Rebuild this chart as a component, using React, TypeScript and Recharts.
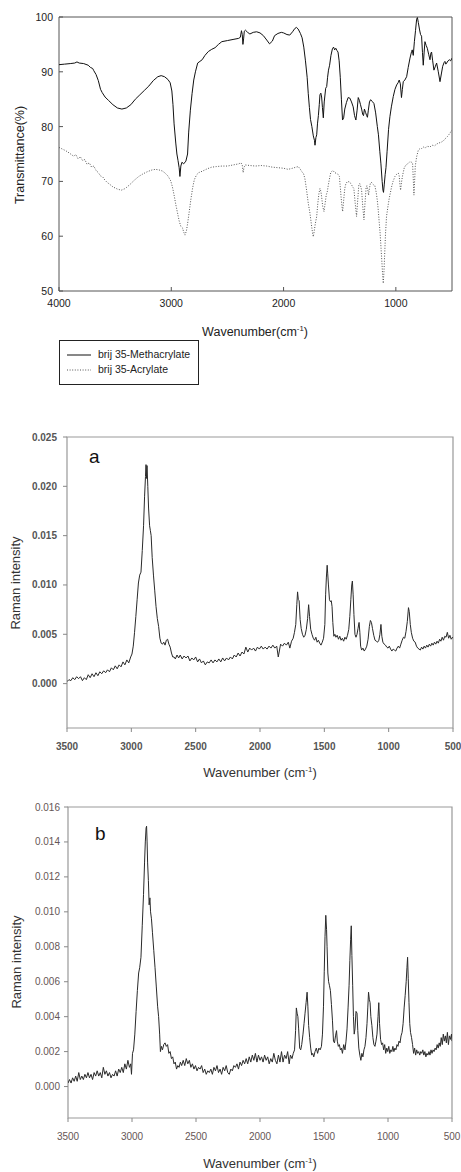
import React from 'react';
import { LineChart, Line, XAxis, YAxis, ReferenceArea, Legend } from 'recharts';

type Pt = [number, number];

const FONT = '"Liberation Sans", Arial, Helvetica, sans-serif';

// ---------- tick labels / categories ----------
const ftirSeriesNames = ['brij 35-Methacrylate', 'brij 35-Acrylate'];
const ftirXTicks = [4000, 3000, 2000, 1000];
const ftirYTicks = [50, 60, 70, 80, 90, 100];
const ramanXTicks = [3500, 3000, 2500, 2000, 1500, 1000, 500];
const ramanAYTicks = [0, 0.005, 0.01, 0.015, 0.02, 0.025];
const ramanBYTicks = [0, 0.002, 0.004, 0.006, 0.008, 0.01, 0.012, 0.014, 0.016];

// ---------- FTIR: brij 35-Methacrylate (wavenumber, transmittance %) ----------
const ftirMethacrylate: Pt[] = [
  [4000, 91.3], [3950, 91.4], [3900, 91.5], [3860, 91.6], [3840, 91.8], [3820, 91.6], [3780, 91.5],
  [3740, 91.2], [3720, 90.8], [3700, 90.6], [3690, 90.2], [3670, 89.5], [3650, 88.4], [3630, 86.8],
  [3615, 86.2], [3590, 85.4], [3560, 84.8], [3520, 84.0], [3480, 83.4], [3440, 83.2], [3400, 83.4],
  [3360, 84.0], [3320, 85.0], [3280, 85.8], [3240, 86.6], [3200, 87.4], [3160, 88.4], [3120, 89.1],
  [3090, 89.3], [3060, 89.1], [3030, 88.6], [3010, 88.0], [2995, 86.5], [2985, 84.0], [2975, 80.5],
  [2960, 77.0], [2950, 75.0], [2940, 73.8], [2930, 72.5], [2923, 70.9], [2915, 72.8], [2905, 73.5],
  [2890, 73.2], [2870, 73.7], [2855, 75.0], [2845, 79.0], [2830, 83.0], [2815, 86.0], [2800, 88.5],
  [2785, 90.0], [2765, 91.6], [2745, 91.9], [2725, 92.2], [2700, 93.0], [2670, 93.7], [2640, 94.1],
  [2610, 94.4], [2580, 95.0], [2550, 95.5], [2500, 95.7], [2450, 95.9], [2400, 96.1], [2385, 96.3],
  [2375, 97.5], [2368, 96.8], [2362, 95.0], [2356, 96.0], [2350, 97.4], [2340, 97.6], [2320, 97.2],
  [2300, 96.9], [2270, 97.2], [2240, 97.3], [2210, 97.1], [2180, 96.6], [2150, 95.8], [2125, 95.1],
  [2100, 95.6], [2080, 96.6], [2050, 97.0], [2020, 97.2], [2000, 97.1], [1970, 96.8], [1945, 96.7],
  [1920, 97.3], [1900, 97.9], [1885, 98.1], [1870, 97.8], [1850, 97.0], [1835, 96.2], [1820, 94.5],
  [1805, 92.0], [1790, 89.0], [1780, 86.0], [1770, 83.5], [1760, 81.3], [1748, 80.0], [1735, 78.3],
  [1725, 77.5], [1720, 76.6], [1712, 78.0], [1705, 78.5], [1698, 80.5], [1690, 82.0], [1682, 84.0],
  [1676, 85.8], [1668, 86.1], [1661, 85.4], [1654, 83.5], [1646, 81.6], [1638, 84.5], [1625, 87.0],
  [1616, 87.3], [1608, 89.0], [1600, 90.3], [1590, 91.2], [1578, 93.0], [1565, 94.2], [1555, 94.5],
  [1545, 94.0], [1535, 94.3], [1525, 93.9], [1515, 93.6], [1505, 92.0], [1495, 89.0], [1485, 85.0],
  [1475, 81.2], [1465, 81.6], [1455, 83.2], [1440, 84.4], [1425, 85.3], [1410, 85.2], [1395, 84.5],
  [1380, 83.6], [1368, 82.0], [1356, 81.2], [1345, 83.0], [1335, 85.3], [1325, 84.8], [1315, 84.0],
  [1305, 83.2], [1295, 82.2], [1288, 82.0], [1280, 83.2], [1270, 82.6], [1260, 82.0], [1253, 81.7],
  [1245, 83.0], [1235, 84.5], [1225, 84.9], [1210, 84.6], [1195, 84.2], [1180, 82.5], [1165, 80.0],
  [1155, 78.5], [1143, 75.5], [1133, 73.2], [1122, 70.0], [1115, 68.4], [1110, 68.0], [1103, 69.5],
  [1095, 71.3], [1088, 72.5], [1078, 75.5], [1065, 79.5], [1053, 81.8], [1040, 83.6], [1023, 85.5],
  [1008, 86.8], [993, 87.6], [980, 88.0], [970, 88.5], [960, 87.8], [950, 85.3], [942, 86.8],
  [934, 88.2], [920, 88.5], [904, 89.1], [890, 90.8], [874, 92.5], [860, 93.7], [854, 94.0],
  [845, 93.0], [835, 95.5], [825, 97.5], [815, 99.6], [808, 99.9], [800, 99.0], [790, 97.8],
  [780, 96.8], [771, 96.5], [763, 93.5], [756, 91.2], [748, 93.6], [741, 95.5], [730, 94.8],
  [720, 94.3], [708, 93.2], [696, 92.2], [688, 93.4], [682, 93.6], [672, 92.0], [661, 90.3],
  [650, 90.9], [637, 91.6], [622, 90.0], [607, 88.2], [595, 89.6], [583, 91.0], [570, 91.7],
  [563, 91.9], [555, 91.4], [548, 91.6], [535, 92.0], [524, 92.2], [512, 92.0], [500, 92.5],
];

// ---------- FTIR: brij 35-Acrylate ----------
const ftirAcrylate: Pt[] = [
  [4000, 76.2], [3970, 75.9], [3940, 75.6], [3910, 75.2], [3890, 74.9], [3870, 74.6], [3850, 74.9],
  [3830, 74.1], [3810, 74.5], [3790, 73.8], [3770, 74.0], [3750, 73.1], [3730, 73.4], [3710, 72.6],
  [3690, 72.8], [3670, 72.0], [3650, 71.6], [3630, 71.0], [3610, 70.8], [3590, 70.2], [3570, 69.8],
  [3550, 69.5], [3520, 69.0], [3480, 68.6], [3445, 68.4], [3410, 68.7], [3370, 69.4], [3330, 70.2],
  [3290, 70.9], [3250, 71.4], [3210, 71.8], [3170, 72.1], [3140, 72.2], [3110, 72.1], [3080, 71.9],
  [3060, 71.6], [3030, 71.0], [3005, 70.1], [2990, 69.0], [2975, 67.5], [2960, 65.8], [2945, 64.3],
  [2930, 62.8], [2915, 61.8], [2900, 61.5], [2890, 60.8], [2878, 60.2], [2865, 61.0], [2854, 62.4],
  [2840, 64.5], [2825, 66.8], [2810, 68.8], [2795, 70.3], [2775, 71.2], [2755, 71.6], [2720, 71.9],
  [2680, 72.3], [2640, 72.6], [2600, 72.7], [2550, 72.8], [2500, 72.8], [2450, 73.0], [2400, 73.2],
  [2380, 73.4], [2368, 73.0], [2360, 71.6], [2352, 72.6], [2340, 73.0], [2300, 72.9], [2250, 72.8],
  [2200, 72.9], [2150, 72.8], [2100, 72.6], [2050, 72.5], [2000, 72.4], [1960, 72.2], [1920, 72.4],
  [1890, 72.6], [1869, 72.7], [1850, 72.2], [1835, 71.7], [1822, 71.4], [1810, 70.5], [1795, 68.4],
  [1780, 66.0], [1765, 64.2], [1750, 61.8], [1740, 60.3], [1735, 59.9], [1728, 60.8], [1718, 62.2],
  [1705, 63.6], [1695, 66.0], [1685, 67.8], [1676, 68.7], [1668, 68.2], [1661, 67.2], [1652, 65.5],
  [1640, 64.5], [1630, 66.0], [1620, 67.5], [1611, 68.1], [1600, 69.5], [1590, 70.6], [1580, 71.6],
  [1572, 71.8], [1560, 72.0], [1545, 71.6], [1533, 71.5], [1520, 71.4], [1503, 70.9], [1495, 69.0],
  [1488, 67.2], [1480, 65.5], [1474, 64.5], [1465, 66.5], [1455, 68.7], [1445, 69.6], [1430, 70.0],
  [1415, 69.9], [1400, 69.6], [1385, 69.0], [1374, 68.7], [1362, 66.0], [1350, 63.6], [1340, 66.5],
  [1330, 69.3], [1322, 69.6], [1312, 69.0], [1305, 68.4], [1295, 65.5], [1284, 63.0], [1275, 66.0],
  [1265, 68.8], [1258, 69.2], [1250, 68.5], [1243, 67.5], [1235, 68.8], [1225, 69.8], [1216, 69.8],
  [1205, 69.5], [1195, 69.3], [1187, 69.2], [1175, 68.0], [1165, 66.5], [1157, 64.8], [1148, 62.5],
  [1140, 60.5], [1132, 57.8], [1125, 55.5], [1118, 53.0], [1112, 51.4], [1106, 53.5], [1100, 56.5],
  [1092, 60.5], [1083, 63.6], [1070, 65.5], [1059, 66.9], [1048, 68.0], [1038, 69.0], [1025, 70.0],
  [1008, 70.9], [993, 71.3], [978, 71.5], [970, 71.0], [964, 69.5], [958, 68.4], [950, 69.8],
  [940, 71.1], [925, 72.5], [910, 73.0], [890, 73.3], [874, 73.6], [860, 73.5], [851, 73.3],
  [845, 70.5], [839, 67.5], [833, 70.0], [827, 72.8], [815, 74.5], [800, 75.7], [785, 76.0],
  [770, 76.0], [756, 76.3], [740, 76.1], [720, 76.4], [696, 76.3], [675, 76.6], [655, 76.5],
  [637, 76.8], [620, 77.0], [600, 77.1], [577, 77.4], [560, 77.8], [540, 78.2], [518, 78.8],
  [504, 79.3], [500, 79.4],
];

// ---------- Raman a ----------
const ramanA: Pt[] = [
  [3500, 0.0002], [3485, 0.0004], [3470, 0.0003], [3455, 0.0006], [3440, 0.0004], [3425, 0.0007],
  [3410, 0.0005], [3395, 0.0007], [3380, 0.0003], [3365, 0.0006], [3350, 0.0004], [3335, 0.0009],
  [3320, 0.0006], [3305, 0.0010], [3290, 0.0007], [3275, 0.0011], [3260, 0.0008], [3245, 0.0012],
  [3230, 0.0010], [3215, 0.0013], [3200, 0.0011], [3185, 0.0014], [3170, 0.0012], [3155, 0.0016],
  [3140, 0.0014], [3125, 0.0018], [3110, 0.0015], [3095, 0.0019], [3080, 0.0017], [3065, 0.0022],
  [3050, 0.0019], [3035, 0.0024], [3020, 0.0021], [3005, 0.0027], [2995, 0.0030], [2985, 0.0038],
  [2975, 0.0052], [2965, 0.0068], [2955, 0.0085], [2945, 0.0102], [2935, 0.0110], [2925, 0.0113],
  [2915, 0.0135], [2905, 0.0160], [2897, 0.0190], [2890, 0.0210], [2886, 0.0222], [2882, 0.0208],
  [2878, 0.0221], [2872, 0.0200], [2866, 0.0178], [2858, 0.0160], [2852, 0.0155], [2846, 0.0150],
  [2838, 0.0128], [2828, 0.0110], [2818, 0.0094], [2808, 0.0078], [2798, 0.0066], [2788, 0.0058],
  [2778, 0.0046], [2768, 0.0041], [2758, 0.0040], [2748, 0.0042], [2738, 0.0039], [2728, 0.0044],
  [2718, 0.0045], [2708, 0.0040], [2698, 0.0037], [2688, 0.0031], [2678, 0.0027], [2668, 0.0027],
  [2658, 0.0025], [2645, 0.0029], [2632, 0.0026], [2620, 0.0029], [2605, 0.0025], [2590, 0.0028],
  [2575, 0.0026], [2560, 0.0028], [2545, 0.0023], [2530, 0.0026], [2515, 0.0024], [2500, 0.0027],
  [2485, 0.0022], [2470, 0.0025], [2455, 0.0021], [2440, 0.0023], [2425, 0.0019], [2410, 0.0022],
  [2395, 0.0021], [2380, 0.0024], [2365, 0.0021], [2350, 0.0024], [2335, 0.0022], [2320, 0.0025],
  [2305, 0.0022], [2290, 0.0026], [2275, 0.0023], [2260, 0.0026], [2245, 0.0024], [2230, 0.0027],
  [2215, 0.0025], [2200, 0.0029], [2185, 0.0027], [2170, 0.0031], [2155, 0.0028], [2140, 0.0032],
  [2125, 0.0030], [2110, 0.0037], [2095, 0.0032], [2080, 0.0036], [2065, 0.0034], [2050, 0.0036],
  [2035, 0.0033], [2020, 0.0037], [2005, 0.0035], [1990, 0.0038], [1975, 0.0035], [1960, 0.0037],
  [1945, 0.0035], [1930, 0.0038], [1915, 0.0036], [1900, 0.0039], [1885, 0.0036], [1870, 0.0038],
  [1858, 0.0027], [1840, 0.0040], [1825, 0.0038], [1810, 0.0041], [1795, 0.0039], [1780, 0.0042],
  [1768, 0.0036], [1755, 0.0043], [1742, 0.0046], [1732, 0.0052], [1722, 0.0060], [1714, 0.0080],
  [1708, 0.0093], [1702, 0.0085], [1696, 0.0084], [1688, 0.0065], [1680, 0.0056], [1670, 0.0050],
  [1660, 0.0047], [1650, 0.0049], [1640, 0.0055], [1630, 0.0066], [1622, 0.0080], [1615, 0.0068],
  [1606, 0.0055], [1596, 0.0050], [1586, 0.0046], [1576, 0.0044], [1566, 0.0047], [1556, 0.0042],
  [1546, 0.0044], [1536, 0.0041], [1526, 0.0039], [1516, 0.0042], [1506, 0.0046], [1496, 0.0060],
  [1490, 0.0090], [1484, 0.0108], [1478, 0.0120], [1474, 0.0112], [1468, 0.0100], [1460, 0.0085],
  [1452, 0.0083], [1446, 0.0084], [1440, 0.0078], [1434, 0.0062], [1426, 0.0048], [1418, 0.0050],
  [1410, 0.0047], [1400, 0.0049], [1390, 0.0045], [1380, 0.0048], [1370, 0.0044], [1360, 0.0046],
  [1350, 0.0043], [1340, 0.0047], [1330, 0.0045], [1320, 0.0049], [1310, 0.0055], [1302, 0.0068],
  [1294, 0.0085], [1287, 0.0100], [1282, 0.0104], [1276, 0.0090], [1270, 0.0070], [1262, 0.0050],
  [1254, 0.0047], [1246, 0.0050], [1238, 0.0056], [1230, 0.0062], [1224, 0.0052], [1218, 0.0038],
  [1210, 0.0034], [1200, 0.0036], [1190, 0.0033], [1180, 0.0035], [1170, 0.0038], [1160, 0.0045],
  [1150, 0.0058], [1142, 0.0064], [1134, 0.0062], [1126, 0.0056], [1116, 0.0049], [1106, 0.0044],
  [1096, 0.0043], [1086, 0.0042], [1076, 0.0044], [1068, 0.0050], [1060, 0.0060], [1053, 0.0048],
  [1045, 0.0042], [1035, 0.0040], [1025, 0.0039], [1015, 0.0037], [1005, 0.0036], [995, 0.0038],
  [985, 0.0035], [975, 0.0033], [965, 0.0035], [955, 0.0034], [945, 0.0033], [935, 0.0036],
  [925, 0.0038], [915, 0.0036], [905, 0.0040], [895, 0.0044], [885, 0.0047], [875, 0.0046],
  [865, 0.0053], [855, 0.0063], [846, 0.0077], [840, 0.0073], [832, 0.0060], [824, 0.0052],
  [814, 0.0046], [804, 0.0043], [794, 0.0042], [784, 0.0038], [774, 0.0036], [764, 0.0035],
  [754, 0.0034], [744, 0.0037], [734, 0.0035], [724, 0.0038], [714, 0.0036], [704, 0.0039],
  [694, 0.0037], [684, 0.0040], [674, 0.0038], [664, 0.0041], [654, 0.0039], [644, 0.0042],
  [634, 0.0040], [624, 0.0043], [614, 0.0041], [604, 0.0045], [594, 0.0043], [584, 0.0047],
  [574, 0.0044], [564, 0.0048], [554, 0.0047], [544, 0.0052], [534, 0.0046], [524, 0.0049],
  [514, 0.0045], [504, 0.0047], [500, 0.0046],
];

// ---------- Raman b ----------
const ramanB: Pt[] = [
  [3500, 0.0002], [3488, 0.0004], [3476, 0.0002], [3464, 0.0005], [3452, 0.0003], [3440, 0.0006],
  [3428, 0.0003], [3416, 0.0008], [3404, 0.0004], [3392, 0.0006], [3380, 0.0004], [3368, 0.0007],
  [3356, 0.0005], [3344, 0.0008], [3332, 0.0005], [3320, 0.0007], [3308, 0.0004], [3296, 0.0008],
  [3284, 0.0006], [3272, 0.0009], [3260, 0.0006], [3248, 0.0008], [3236, 0.0005], [3224, 0.0011],
  [3212, 0.0007], [3200, 0.0009], [3188, 0.0006], [3176, 0.0008], [3164, 0.0005], [3152, 0.0007],
  [3140, 0.0006], [3128, 0.0009], [3116, 0.0006], [3104, 0.0010], [3092, 0.0008], [3080, 0.0011],
  [3068, 0.0008], [3056, 0.0013], [3044, 0.0010], [3032, 0.0015], [3020, 0.0011], [3010, 0.0013],
  [3004, 0.0007], [2996, 0.0019], [2988, 0.0021], [2978, 0.0030], [2968, 0.0043], [2958, 0.0055],
  [2948, 0.0065], [2940, 0.0068], [2930, 0.0074], [2920, 0.0092], [2910, 0.0110], [2902, 0.0128],
  [2896, 0.0140], [2890, 0.0148], [2886, 0.0149], [2882, 0.0140], [2878, 0.0128], [2872, 0.0118],
  [2866, 0.0104], [2860, 0.0108], [2855, 0.0100], [2848, 0.0096], [2840, 0.0088], [2830, 0.0078],
  [2820, 0.0068], [2810, 0.0057], [2800, 0.0046], [2792, 0.0040], [2784, 0.0030], [2778, 0.0020],
  [2770, 0.0023], [2762, 0.0021], [2752, 0.0024], [2742, 0.0025], [2732, 0.0023], [2722, 0.0024],
  [2712, 0.0019], [2702, 0.0020], [2692, 0.0016], [2682, 0.0017], [2672, 0.0013], [2662, 0.0014],
  [2652, 0.0010], [2642, 0.0012], [2632, 0.0011], [2622, 0.0014], [2612, 0.0012], [2600, 0.0015],
  [2588, 0.0012], [2576, 0.0016], [2564, 0.0013], [2552, 0.0015], [2540, 0.0011], [2528, 0.0013],
  [2516, 0.0010], [2504, 0.0012], [2492, 0.0009], [2480, 0.0011], [2468, 0.0010], [2456, 0.0012],
  [2444, 0.0008], [2432, 0.0010], [2420, 0.0007], [2408, 0.0009], [2396, 0.0008], [2384, 0.0010],
  [2372, 0.0007], [2360, 0.0011], [2348, 0.0009], [2336, 0.0012], [2324, 0.0008], [2312, 0.0010],
  [2300, 0.0007], [2288, 0.0011], [2276, 0.0009], [2264, 0.0012], [2252, 0.0008], [2240, 0.0007],
  [2228, 0.0010], [2216, 0.0009], [2204, 0.0012], [2192, 0.0011], [2180, 0.0013], [2168, 0.0010],
  [2156, 0.0014], [2144, 0.0012], [2132, 0.0015], [2120, 0.0013], [2108, 0.0016], [2096, 0.0013],
  [2084, 0.0017], [2072, 0.0014], [2060, 0.0018], [2048, 0.0015], [2036, 0.0019], [2024, 0.0014],
  [2012, 0.0018], [2000, 0.0015], [1988, 0.0017], [1976, 0.0014], [1964, 0.0018], [1952, 0.0015],
  [1940, 0.0017], [1928, 0.0013], [1916, 0.0016], [1904, 0.0014], [1892, 0.0019], [1880, 0.0015],
  [1868, 0.0013], [1856, 0.0018], [1844, 0.0014], [1832, 0.0020], [1820, 0.0014], [1808, 0.0018],
  [1796, 0.0016], [1784, 0.0020], [1772, 0.0013], [1762, 0.0018], [1750, 0.0016], [1740, 0.0019],
  [1730, 0.0021], [1722, 0.0032], [1716, 0.0045], [1710, 0.0042], [1704, 0.0040], [1698, 0.0033],
  [1690, 0.0022], [1682, 0.0021], [1674, 0.0024], [1664, 0.0030], [1656, 0.0036], [1648, 0.0042],
  [1640, 0.0048], [1632, 0.0054], [1626, 0.0046], [1620, 0.0035], [1612, 0.0028], [1604, 0.0022],
  [1596, 0.0018], [1588, 0.0019], [1580, 0.0017], [1570, 0.0020], [1560, 0.0022], [1550, 0.0019],
  [1540, 0.0022], [1530, 0.0021], [1520, 0.0023], [1512, 0.0030], [1504, 0.0046], [1498, 0.0066],
  [1492, 0.0086], [1486, 0.0098], [1480, 0.0090], [1476, 0.0080], [1470, 0.0065], [1464, 0.0060],
  [1458, 0.0058], [1450, 0.0055], [1442, 0.0047], [1434, 0.0038], [1426, 0.0026], [1418, 0.0025],
  [1410, 0.0029], [1402, 0.0032], [1396, 0.0026], [1388, 0.0023], [1380, 0.0024], [1372, 0.0021],
  [1364, 0.0022], [1356, 0.0019], [1346, 0.0024], [1336, 0.0021], [1328, 0.0026], [1320, 0.0033],
  [1312, 0.0045], [1304, 0.0058], [1298, 0.0072], [1292, 0.0084], [1287, 0.0092], [1282, 0.0075],
  [1276, 0.0058], [1270, 0.0040], [1264, 0.0030], [1258, 0.0033], [1250, 0.0043], [1242, 0.0042],
  [1236, 0.0032], [1228, 0.0022], [1220, 0.0018], [1212, 0.0015], [1204, 0.0019], [1196, 0.0017],
  [1188, 0.0021], [1180, 0.0023], [1172, 0.0028], [1164, 0.0036], [1158, 0.0045], [1152, 0.0054],
  [1146, 0.0050], [1140, 0.0048], [1134, 0.0040], [1126, 0.0035], [1118, 0.0028], [1110, 0.0024],
  [1102, 0.0023], [1094, 0.0026], [1086, 0.0030], [1078, 0.0040], [1072, 0.0048], [1066, 0.0036],
  [1058, 0.0027], [1050, 0.0024], [1042, 0.0025], [1034, 0.0021], [1026, 0.0024], [1018, 0.0019],
  [1010, 0.0022], [1002, 0.0020], [994, 0.0023], [986, 0.0019], [978, 0.0021], [970, 0.0020],
  [962, 0.0023], [954, 0.0020], [946, 0.0022], [938, 0.0021], [930, 0.0024], [922, 0.0023],
  [914, 0.0026], [906, 0.0025], [898, 0.0029], [890, 0.0031], [882, 0.0036], [874, 0.0045],
  [866, 0.0052], [858, 0.0060], [852, 0.0068], [847, 0.0074], [842, 0.0062], [836, 0.0048],
  [830, 0.0036], [824, 0.0031], [816, 0.0028], [808, 0.0024], [800, 0.0019], [792, 0.0022],
  [784, 0.0018], [776, 0.0021], [768, 0.0019], [760, 0.0020], [752, 0.0018], [744, 0.0020],
  [736, 0.0019], [728, 0.0021], [720, 0.0018], [712, 0.0020], [704, 0.0017], [696, 0.0019],
  [688, 0.0018], [680, 0.0020], [672, 0.0018], [664, 0.0021], [656, 0.0019], [648, 0.0021],
  [640, 0.0020], [632, 0.0022], [624, 0.0021], [616, 0.0024], [608, 0.0022], [600, 0.0025],
  [592, 0.0023], [584, 0.0028], [576, 0.0024], [568, 0.0030], [560, 0.0026], [552, 0.0029],
  [544, 0.0025], [536, 0.0031], [528, 0.0024], [520, 0.0029], [512, 0.0027], [504, 0.0030],
  [500, 0.0026],
];

const rows = (pts: Pt[]) => pts.map(([w, v]) => ({ w, v }));

const ftirStyles = [
  { stroke: '#111111', dash: undefined as string | undefined },
  { stroke: '#555555', dash: '1 1.6' },
];

interface TickOpts {
  axis: 'x' | 'y';
  inward: boolean;
  len: number;
  gap: number;
  size: number;
  color: string;
  weight?: number | string;
  lineColor: string;
  digits: number;
}

function makeTick(o: TickOpts) {
  return (props: any) => {
    const { x, y, payload } = props;
    const val = Number(payload.value);
    const label = o.digits > 0 ? val.toFixed(o.digits) : String(val);
    if (o.axis === 'x') {
      const y2 = o.inward ? y - o.len : y + o.len;
      return (
        <g>
          <line x1={x} y1={y} x2={x} y2={y2} stroke={o.lineColor} strokeWidth={1} />
          <text x={x} y={y + o.gap} textAnchor="middle" dominantBaseline="central"
            fontFamily={FONT} fontSize={o.size} fill={o.color} fontWeight={o.weight ?? 'normal'}>
            {label}
          </text>
        </g>
      );
    }
    const x2 = o.inward ? x + o.len : x - o.len;
    return (
      <g>
        <line x1={x} y1={y} x2={x2} y2={y} stroke={o.lineColor} strokeWidth={1} />
        <text x={x - o.gap} y={y} textAnchor="end" dominantBaseline="central"
          fontFamily={FONT} fontSize={o.size} fill={o.color} fontWeight={o.weight ?? 'normal'}>
          {label}
        </text>
      </g>
    );
  };
}

const YTitle = (p: { px: number; py: number; text: string; size: number; color: string }) => (
  <text x={p.px} y={p.py} transform={`rotate(-90 ${p.px} ${p.py})`} textAnchor="middle"
    dominantBaseline="central" fontFamily={FONT} fontSize={p.size} fill={p.color}>
    {p.text}
  </text>
);

const XTitle = (p: { px: number; py: number; text: string; size: number; color: string }) => (
  <text x={p.px} y={p.py} textAnchor="middle" fontFamily={FONT} fontSize={p.size} fill={p.color}>
    <tspan>{p.text}</tspan>
    <tspan dy={-5} fontSize={p.size * 0.62}>-1</tspan>
    <tspan dy={5}>)</tspan>
  </text>
);

const PanelLetter = (p: { px: number; py: number; text: string }) => (
  <text x={p.px} y={p.py} fontFamily={FONT} fontSize={19} fill="#111">
    {p.text}
  </text>
);

const FtirLegend = (props: any) => {
  const raw: any[] = props.payload ?? [];
  const items = [...raw].sort(
    (a, b) => ftirSeriesNames.indexOf(String(a.value)) - ftirSeriesNames.indexOf(String(b.value)),
  );
  return (
    <div style={{
      width: 140, height: 45, border: '1px solid #222', boxSizing: 'border-box', background: '#fff',
      fontFamily: FONT, fontSize: 10.5, color: '#222', paddingTop: 6,
    }}>
      {items.map((it, i) => {
        const idx = ftirSeriesNames.indexOf(String(it.value));
        const st = ftirStyles[idx >= 0 ? idx : i] ?? ftirStyles[0];
        return (
          <div key={i} style={{ display: 'flex', alignItems: 'center', height: 15, lineHeight: '15px' }}>
            <svg width={38} height={10} style={{ flex: 'none' }}>
              <line x1={7} x2={31} y1={5} y2={5} stroke={st.stroke} strokeWidth={1}
                strokeDasharray={st.dash} />
            </svg>
            <span style={{ whiteSpace: 'nowrap' }}>{it.value}</span>
          </div>
        );
      })}
    </div>
  );
};

const FtirChart = () => (
  <LineChart width={461} height={400} margin={{ top: 17, right: 9, bottom: 79, left: 0 }}>
    <XAxis dataKey="w" type="number" domain={[500, 4000]} reversed allowDataOverflow
      ticks={ftirXTicks} interval={0} height={30} axisLine={false} tickLine={false}
      tickSize={0} tickMargin={0}
      tick={makeTick({ axis: 'x', inward: true, len: 4, gap: 12, size: 10.5, color: '#222', lineColor: '#555', digits: 0 })}
      label={<XTitle px={255} py={336} text="Wavenumber(cm" size={12.5} color="#222" />} />
    <YAxis type="number" domain={[50, 100]} allowDataOverflow ticks={ftirYTicks} interval={0}
      width={59} axisLine={false} tickLine={false} tickSize={0} tickMargin={0}
      tick={makeTick({ axis: 'y', inward: true, len: 4, gap: 6, size: 10.5, color: '#222', lineColor: '#555', digits: 0 })}
      label={<YTitle px={20} py={155} text="Transmittance(%)" size={12.5} color="#222" />} />
    <ReferenceArea x1={4000} x2={500} y1={50} y2={100} fill="none" stroke="#555" strokeWidth={1} />
    <Line data={rows(ftirMethacrylate)} dataKey="v" name={ftirSeriesNames[0]} type="linear"
      stroke={ftirStyles[0].stroke} strokeWidth={1} dot={false} isAnimationActive={false} />
    <Line data={rows(ftirAcrylate)} dataKey="v" name={ftirSeriesNames[1]} type="linear"
      stroke={ftirStyles[1].stroke} strokeDasharray={ftirStyles[1].dash} strokeWidth={1}
      dot={false} isAnimationActive={false} />
    <Legend layout="vertical" align="center" verticalAlign="middle" content={<FtirLegend />}
      wrapperStyle={{ position: 'absolute', left: 59, top: 340, width: 140, height: 45 }} />
  </LineChart>
);

const RamanChart = (p: {
  data: Pt[]; height: number; yDomain: [number, number]; yTicks: number[]; yWidth: number;
  right: number; bottom: number; yGap: number; tickColor: string; tickWeight: number | string;
  letter: string; letterX: number; letterY: number; yTitleX: number; yTitleY: number; xTitleY: number;
}) => (
  <LineChart width={461} height={p.height} margin={{ top: 17, right: p.right, bottom: p.bottom, left: 0 }}>
    <XAxis dataKey="w" type="number" domain={[500, 3500]} reversed allowDataOverflow
      ticks={ramanXTicks} interval={0} height={30} axisLine={false} tickLine={false}
      tickSize={0} tickMargin={0}
      tick={makeTick({ axis: 'x', inward: false, len: 4, gap: 18, size: 10, color: p.tickColor, weight: p.tickWeight, lineColor: '#888', digits: 0 })}
      label={<XTitle px={260} py={p.xTitleY} text="Wavenumber (cm" size={13} color="#333" />} />
    <YAxis type="number" domain={p.yDomain} allowDataOverflow ticks={p.yTicks} interval={0}
      width={p.yWidth} axisLine={false} tickLine={false} tickSize={0} tickMargin={0}
      tick={makeTick({ axis: 'y', inward: false, len: 4, gap: p.yGap, size: 10, color: p.tickColor, weight: p.tickWeight, lineColor: '#888', digits: 3 })}
      label={<YTitle px={p.yTitleX} py={p.yTitleY} text="Raman intensity" size={13} color="#333" />} />
    <ReferenceArea x1={3500} x2={500} y1={p.yDomain[0]} y2={p.yDomain[1]} fill="none" stroke="#999"
      strokeWidth={1.2}
      label={<PanelLetter px={p.letterX} py={p.letterY} text={p.letter} />} />
    <Line data={rows(p.data)} dataKey="v" type="linear" stroke="#2a2a2a" strokeWidth={1}
      dot={false} isAnimationActive={false} />
  </LineChart>
);

export default function App() {
  return (
    <div style={{ position: 'absolute', left: 0, top: 0, width: 461, height: 1172, background: '#fff', overflow: 'hidden' }}>
      <div style={{ position: 'absolute', left: 0, top: 0 }}>
        <FtirChart />
      </div>
      <div style={{ position: 'absolute', left: 0, top: 420 }}>
        <RamanChart data={ramanA} height={370} yDomain={[-0.0045, 0.025]} yTicks={ramanAYTicks}
          yWidth={67} right={8} bottom={32} yGap={10} tickColor="#555" tickWeight="bold"
          letter="a" letterX={89} letterY={43} yTitleX={15} yTitleY={163} xTitleY={357} />
      </div>
      <div style={{ position: 'absolute', left: 0, top: 790 }}>
        <RamanChart data={ramanB} height={382} yDomain={[-0.0018, 0.016]} yTicks={ramanBYTicks}
          yWidth={68} right={9} bottom={24} yGap={8} tickColor="#665656" tickWeight="normal"
          letter="b" letterX={95} letterY={50} yTitleX={16} yTitleY={172} xTitleY={378} />
      </div>
    </div>
  );
}
